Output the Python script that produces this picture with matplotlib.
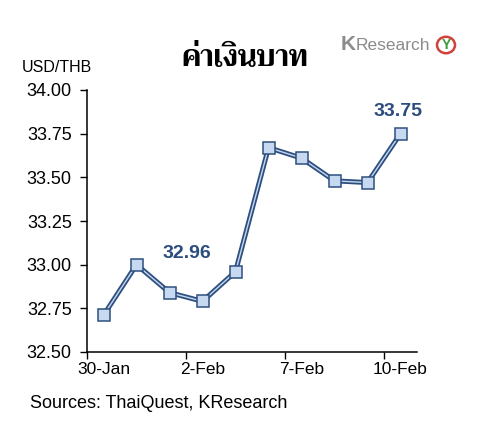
import matplotlib
matplotlib.use("Agg")
import matplotlib.pyplot as plt
from matplotlib import font_manager
from matplotlib.patches import Circle

dates = ["30-Jan", "31-Jan", "1-Feb", "2-Feb", "3-Feb", "6-Feb", "7-Feb", "8-Feb", "9-Feb", "10-Feb"]
usd_thb = [32.71, 33.00, 32.84, 32.79, 32.96, 33.67, 33.61, 33.48, 33.47, 33.75]
label_idx = [0, 3, 6, 9]
yticks = [32.50, 32.75, 33.00, 33.25, 33.50, 33.75, 34.00]
title = "ค่าเงินบาท"

# find a font that covers Thai
thai_font = None
try:
    from fontTools.ttLib import TTFont
    cands = []
    for f in font_manager.fontManager.ttflist:
        try:
            tt = TTFont(f.fname, fontNumber=0, lazy=True)
            cmap = tt.getBestCmap()
            if cmap and all(ord(c) in cmap for c in title):
                score = 0
                w = f.weight
                if (isinstance(w, int) and w >= 600) or 'bold' in str(w).lower():
                    score += 1
                cands.append((score, f.name))
        except Exception:
            pass
    if cands:
        cands.sort(reverse=True)
        thai_font = cands[0][1]
except Exception:
    pass

base = "Liberation Sans"
plt.rcParams['font.family'] = [base, 'DejaVu Sans']

fig = plt.figure(figsize=(4.78, 4.37), dpi=100)
ax = fig.add_axes([87/478, 1-352/437, 330/478, 262/437])

x = list(range(len(usd_thb)))
dark = "#2E4F7E"
light = "#C6D9F1"
ax.plot(x, usd_thb, color=dark, lw=3.6, solid_joinstyle='round', zorder=2)
ax.plot(x, usd_thb, color=light, lw=1.0, solid_joinstyle='round', zorder=3)
ax.plot(x, usd_thb, ls='none', marker='s', ms=9, mfc=light, mec=dark, mew=1.1, zorder=4)

ax.set_xlim(-0.5, len(usd_thb) - 0.5)
ax.set_ylim(32.5, 34.0)
ax.set_yticks(yticks)
ax.set_yticklabels([f"{v:.2f}" for v in yticks], fontsize=13)
ax.set_xticks([i - 0.5 for i in label_idx])
ax.set_xticklabels([])
ax.set_xticks(label_idx, minor=True)
ax.set_xticklabels([dates[i] for i in label_idx], minor=True, fontsize=12.5)
ax.tick_params(axis='x', which='major', direction='out', length=5, width=1)
ax.tick_params(axis='x', which='minor', length=0, pad=7)
ax.tick_params(axis='y', direction='out', length=5, width=1, pad=6)
for s in ['top', 'right']:
    ax.spines[s].set_visible(False)
ax.spines['left'].set_linewidth(1.1)
ax.spines['bottom'].set_linewidth(1.1)

ann_col = "#2B4C7E"
ax.annotate(f"{usd_thb[4]:.2f}", xy=(4, usd_thb[4]), xytext=(-35, 13), textcoords='offset points',
            ha='center', va='center', fontsize=14, fontweight='bold', color=ann_col)
ax.annotate(f"{usd_thb[9]:.2f}", xy=(9, usd_thb[9]), xytext=(-2, 16), textcoords='offset points',
            ha='center', va='center', fontsize=14, fontweight='bold', color=ann_col)

tfam = [thai_font, base] if thai_font else [base, 'DejaVu Sans']
fig.text(245/478, 1-59/437, title, ha='center', va='center', fontsize=21, fontweight='bold',
         family=tfam)
fig.text(22/478, 1-67/437, "USD/THB", ha='left', va='center', fontsize=11.5)
fig.text(30/478, 1-404/437, "Sources: ThaiQuest, KResearch", ha='left', va='center', fontsize=13)

# logo
fig.text(341/478, 1-45/437, "K", ha='left', va='center', fontsize=15, fontweight='bold', color="#8C8C8C")
fig.text(356/478, 1-45/437, "Research", ha='left', va='center', fontsize=12.5, color="#8C8C8C")
circ = Circle((446/478, 1-45/437), 9/478, transform=fig.transFigure, fill=False, ec="#D0423B", lw=1.8)
fig.patches.append(circ)
fig.text(446/478, 1-45/437, "Y", ha='center', va='center', fontsize=10, fontweight='bold', color="#3A9A3A")

fig.savefig("out.png", dpi=100)
